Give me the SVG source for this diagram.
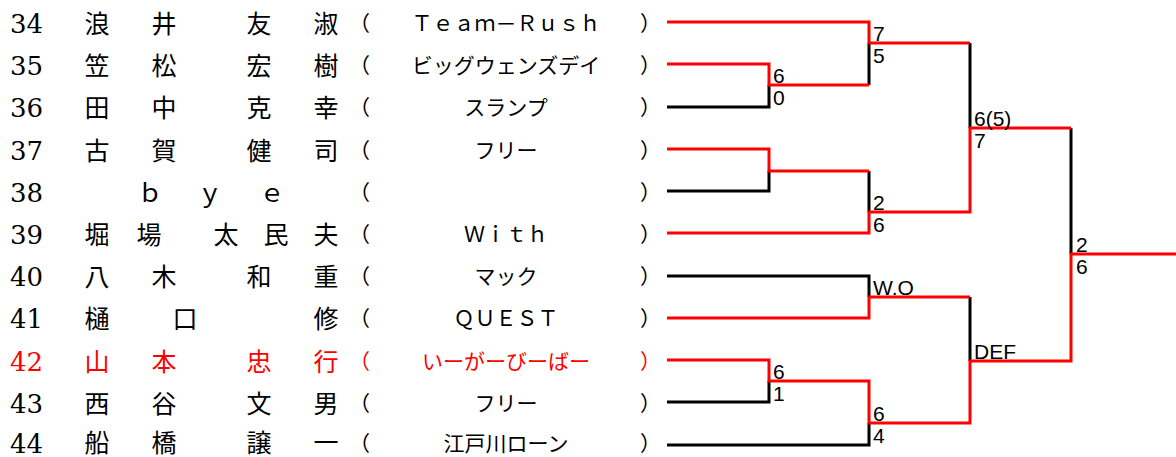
<svg xmlns="http://www.w3.org/2000/svg" width="1176" height="457" viewBox="0 0 1176 457">
<style>
.num{font-family:"DejaVu Serif","Liberation Serif",serif;font-size:26px;fill:#000}
.nm{font-family:"Noto Sans CJK JP",sans-serif;font-size:25px;fill:#000;text-anchor:middle}
.tm{font-family:"Noto Sans CJK JP",sans-serif;font-size:21px;fill:#000;text-anchor:middle}
.pl{font-family:"Noto Sans CJK JP",sans-serif;font-size:21px;fill:#000}
.sc{font-family:"Liberation Sans",Arial,sans-serif;font-size:21px;fill:#000}
.red text{fill:#FF0000}
.bk{fill:none;stroke:#000;stroke-width:3}
.rd{fill:none;stroke:#FF0000;stroke-width:3}
</style>
<rect width="1176" height="457" fill="#fff"/>
<g id="p34"><text class="num" x="10" y="33">34</text><text class="nm" y="33"><tspan x="97">浪</tspan><tspan x="164">井</tspan><tspan x="259">友</tspan><tspan x="326">淑</tspan></text><text class="pl" x="349" y="31">（</text><text class="tm" x="506" y="31">Ｔｅａｍ－Ｒｕｓｈ</text><text class="pl" x="640" y="31">）</text></g>
<g id="p35"><text class="num" x="10" y="75">35</text><text class="nm" y="75"><tspan x="97">笠</tspan><tspan x="164">松</tspan><tspan x="259">宏</tspan><tspan x="326">樹</tspan></text><text class="pl" x="349" y="73">（</text><text class="tm" x="506" y="73">ビッグウェンズデイ</text><text class="pl" x="640" y="73">）</text></g>
<g id="p36"><text class="num" x="10" y="117">36</text><text class="nm" y="117"><tspan x="97">田</tspan><tspan x="164">中</tspan><tspan x="259">克</tspan><tspan x="326">幸</tspan></text><text class="pl" x="349" y="115">（</text><text class="tm" x="506" y="115">スランプ</text><text class="pl" x="640" y="115">）</text></g>
<g id="p37"><text class="num" x="10" y="160">37</text><text class="nm" y="160"><tspan x="97">古</tspan><tspan x="164">賀</tspan><tspan x="259">健</tspan><tspan x="326">司</tspan></text><text class="pl" x="349" y="158">（</text><text class="tm" x="506" y="158">フリー</text><text class="pl" x="640" y="158">）</text></g>
<g id="p38"><text class="num" x="10" y="202">38</text><text class="nm" y="202"><tspan x="150">ｂ</tspan><tspan x="210">ｙ</tspan><tspan x="272">ｅ</tspan></text><text class="pl" x="349" y="200">（</text><text class="pl" x="640" y="200">）</text></g>
<g id="p39"><text class="num" x="10" y="244">39</text><text class="nm" y="244"><tspan x="97">堀</tspan><tspan x="149">場</tspan><tspan x="226">太</tspan><tspan x="276">民</tspan><tspan x="326">夫</tspan></text><text class="pl" x="349" y="242">（</text><text class="tm" x="506" y="242">Ｗｉｔｈ</text><text class="pl" x="640" y="242">）</text></g>
<g id="p40"><text class="num" x="10" y="286">40</text><text class="nm" y="286"><tspan x="97">八</tspan><tspan x="164">木</tspan><tspan x="259">和</tspan><tspan x="326">重</tspan></text><text class="pl" x="349" y="284">（</text><text class="tm" x="506" y="284">マック</text><text class="pl" x="640" y="284">）</text></g>
<g id="p41"><text class="num" x="10" y="328">41</text><text class="nm" y="328"><tspan x="97">樋</tspan><tspan x="185">口</tspan><tspan x="326">修</tspan></text><text class="pl" x="349" y="326">（</text><text class="tm" x="506" y="326">ＱＵＥＳＴ</text><text class="pl" x="640" y="326">）</text></g>
<g id="p42" class="red"><text class="num" x="10" y="371">42</text><text class="nm" y="371"><tspan x="97">山</tspan><tspan x="164">本</tspan><tspan x="259">忠</tspan><tspan x="326">行</tspan></text><text class="pl" x="349" y="369">（</text><text class="tm" x="506" y="369">いーがーびーばー</text><text class="pl" x="640" y="369">）</text></g>
<g id="p43"><text class="num" x="10" y="413">43</text><text class="nm" y="413"><tspan x="97">西</tspan><tspan x="164">谷</tspan><tspan x="259">文</tspan><tspan x="326">男</tspan></text><text class="pl" x="349" y="411">（</text><text class="tm" x="506" y="411">フリー</text><text class="pl" x="640" y="411">）</text></g>
<g id="p44"><text class="num" x="10" y="453">44</text><text class="nm" y="452"><tspan x="97">船</tspan><tspan x="164">橋</tspan><tspan x="259">譲</tspan><tspan x="326">一</tspan></text><text class="pl" x="349" y="451">（</text><text class="tm" x="506" y="451">江戸川ローン</text><text class="pl" x="640" y="451">）</text></g>
<g id="connectors">
<path class="bk" d="M667,107H769V85 M667,191H769V171 M869,85V43 M869,171V212 M667,276H869V297 M667,402H769V381 M667,445H869V423 M970,43V128 M970,297V361 M1071,128V254"/>
<path class="rd" d="M667,22H869V43H970 M667,64H769V85H869 M667,149H769V171H869 M667,233H869V212H970V128H1071 M667,318H869V297H970 M667,360H769V381H869V423H970V361H1071V254H1176"/>
</g>
<g id="scores">
<text class="sc" x="773" y="83">6</text><text class="sc" x="773" y="105">0</text>
<text class="sc" x="873" y="41">7</text><text class="sc" x="873" y="63">5</text>
<text class="sc" x="873" y="210">2</text><text class="sc" x="873" y="232">6</text>
<text class="sc" x="873" y="295">W.O</text>
<text class="sc" x="773" y="379">6</text><text class="sc" x="773" y="401">1</text>
<text class="sc" x="873" y="421">6</text><text class="sc" x="873" y="443">4</text>
<text class="sc" x="974" y="126">6(5)</text><text class="sc" x="974" y="148">7</text>
<text class="sc" x="974" y="359">DEF</text>
<text class="sc" x="1076" y="252">2</text><text class="sc" x="1076" y="274">6</text>
</g>
</svg>
